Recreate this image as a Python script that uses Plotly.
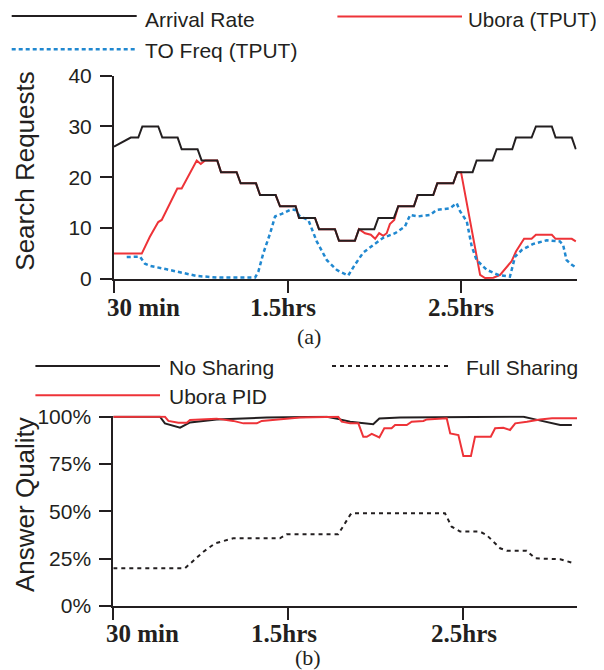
import plotly.graph_objects as go

# page is 604x670; the html body has an 8px margin, so the figure is drawn 8px in
OFF = 8
W, H = 604 - OFF, 670 - OFF

# ---------------- data (a) ----------------
arrival_x = [30, 35.8, 38.4, 39.8, 45.3, 46.7, 52.0, 53.4, 58.9, 60.3, 65.7, 67.0, 72.4, 73.8,
             79.1, 80.5, 85.9, 87.4, 92.8, 94.0, 99.5, 100.9, 106.4, 107.8, 113.3, 114.7, 120.0,
             121.4, 126.8, 128.3, 133.7, 135.0, 140.4, 141.8, 147.3, 148.7, 154.0, 155.4, 160.9,
             162.3, 167.7, 169.0, 174.4, 175.9, 181.4, 182.7, 188.3, 189.7]
arrival_y = [26.0, 27.8, 27.8, 30.0, 30.0, 27.8, 27.8, 25.5, 25.5, 23.3, 23.3, 21.0, 21.0, 18.8,
             18.8, 16.5, 16.5, 14.3, 14.3, 12.0, 12.0, 9.8, 9.8, 7.5, 7.5, 9.8, 9.8,
             12.0, 12.0, 14.3, 14.3, 16.5, 16.5, 18.8, 18.8, 21.0, 21.0, 23.3, 23.3,
             25.5, 25.5, 27.8, 27.8, 30.0, 30.0, 27.8, 27.8, 25.5]

ubora_x = [30, 39.6, 42.4, 45.3, 46.5, 51.9, 53.4, 58.6, 60.0, 61.5, 65.7, 67.0, 72.4, 73.8,
           79.1, 80.5, 85.9, 87.4, 92.8, 94.0, 99.5, 100.9, 106.4, 107.8, 113.3, 114.7,
           116.8, 118.8, 120.3, 121.7, 123.1, 124.3, 125.4, 126.9, 128.3, 133.7, 135.0, 140.4,
           141.8, 147.3, 148.7, 150.0, 156.6, 158.3, 161.2, 163.5, 167.5, 169.0, 171.8, 174.4,
           175.9, 181.4, 182.7, 188.3, 189.7]
ubora_y = [5.0, 5.0, 8.3, 11.2, 11.6, 17.8, 17.8, 23.3, 22.6, 23.3, 23.3, 21.0, 21.0, 18.8,
           18.8, 16.5, 16.5, 14.3, 14.3, 12.0, 12.0, 9.8, 9.8, 7.5, 7.5, 9.8,
           9.0, 8.7, 7.9, 9.0, 8.5, 9.0, 10.8, 11.6, 14.3, 14.3, 16.5, 16.5,
           18.8, 18.8, 21.0, 21.0, 0.8, 0.2, 0.25, 0.8, 3.5, 5.4, 7.9, 7.9,
           8.7, 8.7, 7.9, 7.9, 7.4]

tofreq_x = [34.4, 39.0, 40.7, 42.4, 48.2, 54.0, 58.6, 65.5, 78.8, 79.9, 81.6, 84.0, 85.7, 88.0,
            90.9, 92.6, 94.3, 97.2, 100.1, 103.6, 107.0, 108.2, 111.0, 113.3, 116.2, 119.7,
            123.1, 127.2, 130.6, 132.4, 135.2, 139.3, 141.6, 146.2, 148.5, 149.7, 152.0, 153.7,
            155.4, 158.9, 162.9, 166.9, 168.7, 171.0, 175.0, 179.6, 184.2, 185.3, 186.5, 188.3,
            189.4]
tofreq_y = [4.3, 4.4, 3.0, 2.6, 1.9, 1.1, 0.6, 0.3, 0.3, 1.4, 5.0, 9.0, 12.3, 12.8,
            13.6, 13.6, 12.3, 11.6, 7.4, 3.7, 1.8, 1.4, 0.7, 2.8, 5.2, 6.7,
            8.1, 9.0, 10.3, 12.6, 12.3, 12.6, 13.6, 13.9, 14.9, 13.3, 11.3, 6.4,
            3.7, 1.8, 0.8, 0.45, 4.4, 5.7, 6.9, 7.6, 7.4, 6.7, 3.7, 2.8,
            2.4]

# ---------------- data (b) ----------------
nosharing_x = [30, 46.0, 47.7, 52.9, 56.3, 65.4, 82.6, 103.2, 107.7, 111.2, 119.1, 121.2, 128.3,
               170.6, 174.6, 183.2, 187.2]
nosharing_y = [100, 100, 96.5, 94.2, 97.0, 98.6, 99.6, 100, 98.6, 97.4, 96.0, 99.1, 99.6,
               100, 98.6, 95.6, 95.6]

pid_x = [30, 47.7, 48.9, 52.3, 55.2, 56.3, 65.4, 71.1, 74.6, 79.2, 80.9, 88.3, 94.0, 107.1,
         108.3, 111.2, 114.0, 115.7, 116.9, 118.6, 121.2, 122.9, 125.4, 126.6, 130.6, 132.3,
         136.3, 137.5, 144.3, 145.5, 148.3, 150.0, 152.6, 154.0, 159.4, 160.9, 163.7, 166.0,
         167.8, 171.8, 176.3, 180.4, 189.0]
pid_y = [100, 100, 97.8, 96.8, 96.8, 98.3, 99.0, 97.8, 96.5, 96.5, 97.8, 98.6, 99.6, 100,
         97.4, 96.5, 96.5, 89.4, 89.4, 90.9, 89.1, 93.9, 93.9, 95.6, 95.6, 97.4,
         97.8, 98.6, 99.2, 91.2, 90.3, 79.2, 79.2, 89.4, 89.4, 93.9, 94.2, 93.0,
         96.5, 97.4, 98.6, 99.2, 99.2]

fullsharing_x = [30, 54.6, 60.9, 64.9, 71.1, 87.1, 89.4, 107.1, 111.2, 111.7, 143.7, 146.0,
                 148.9, 155.7, 158.0, 162.6, 164.9, 171.7, 174.6, 183.2, 187.2]
fullsharing_y = [20, 20, 28.7, 33.1, 35.8, 35.8, 37.9, 37.9, 48.1, 49, 49, 41.9,
                 39.3, 39.3, 37.5, 30.5, 29.2, 29.2, 25.2, 24.7, 22.9]

# ticks / labels
x_tickvals = [30, 90, 150]
x_ticktext = ["30 min", "1.5hrs", "2.5hrs"]
ya_tickvals = [0, 10, 20, 30, 40]
ya_ticktext = ["0", "10", "20", "30", "40"]
yb_tickvals = [0, 25, 50, 75, 100]
yb_ticktext = ["0%", "25%", "50%", "75%", "100%"]

# ---------------- styling ----------------
BLACK = "#231f20"
RED = "#ee3338"
BLUE = "#2088d0"
SANS = "Liberation Sans, Arial, sans-serif"
SERIF = "Liberation Serif, Times New Roman, serif"


def fx(p):  # page pixel x -> paper fraction
    return (p - OFF) / W


def fy(p):  # page pixel y -> paper fraction
    return (H - (p - OFF)) / H


fig = go.Figure()

# (a)
fig.add_trace(go.Scatter(x=ubora_x, y=ubora_y, mode="lines", line=dict(color=RED, width=2),
                         xaxis="x", yaxis="y", name="Ubora (TPUT)"))
fig.add_trace(go.Scatter(x=tofreq_x, y=tofreq_y, mode="lines",
                         line=dict(color=BLUE, width=2.5, dash="4px,3px"),
                         xaxis="x", yaxis="y", name="TO Freq (TPUT)"))
fig.add_trace(go.Scatter(x=arrival_x, y=arrival_y, mode="lines", line=dict(color=BLACK, width=2),
                         xaxis="x", yaxis="y", name="Arrival Rate"))

# (b)
fig.add_trace(go.Scatter(x=fullsharing_x, y=fullsharing_y, mode="lines",
                         line=dict(color=BLACK, width=2, dash="4px,4px"),
                         xaxis="x2", yaxis="y2", name="Full Sharing"))
fig.add_trace(go.Scatter(x=nosharing_x, y=nosharing_y, mode="lines", line=dict(color=BLACK, width=2),
                         xaxis="x2", yaxis="y2", name="No Sharing"))
fig.add_trace(go.Scatter(x=pid_x, y=pid_y, mode="lines", line=dict(color=RED, width=2),
                         xaxis="x2", yaxis="y2", name="Ubora PID"))

axis_common = dict(showline=True, linecolor=BLACK, linewidth=2, showgrid=False, zeroline=False,
                   ticks="outside", ticklen=12, tickwidth=2, tickcolor=BLACK, automargin=False)

fig.update_layout(
    width=W, height=H, autosize=False,
    margin=dict(l=0, r=0, t=0, b=0, pad=0, autoexpand=False),
    paper_bgcolor="white", plot_bgcolor="white",
    showlegend=False,
    xaxis=dict(domain=[fx(114), fx(576.7)], range=[30, 190], anchor="y",
               tickvals=x_tickvals, showticklabels=False, **axis_common),
    yaxis=dict(domain=[fy(279), fy(75.5)], range=[0, 40], anchor="x",
               tickmode="array", tickvals=ya_tickvals, ticktext=ya_ticktext, ticklabelstandoff=4,
               tickfont=dict(family=SANS, size=21, color=BLACK), **axis_common),
    xaxis2=dict(domain=[fx(113.3), fx(577.1)], range=[30, 189], anchor="y2",
                tickvals=x_tickvals, showticklabels=False, **axis_common),
    yaxis2=dict(domain=[fy(606), fy(415.6)], range=[0, 100.6], anchor="x2",
                tickmode="array", tickvals=yb_tickvals, ticktext=yb_ticktext, ticklabelstandoff=4,
                tickfont=dict(family=SANS, size=21, color=BLACK), **axis_common),
)

shapes = []
annotations = []


def legend_item(x0, x1, y, color, width, dash, text, tx, ty, size=21):
    shapes.append(dict(type="line", xref="paper", yref="paper",
                       x0=fx(x0), x1=fx(x1), y0=fy(y), y1=fy(y),
                       line=dict(color=color, width=width, dash=dash)))
    annotations.append(dict(xref="paper", yref="paper", x=fx(tx - 1), y=fy(ty), text=text,
                            showarrow=False, xanchor="left", yanchor="middle",
                            borderpad=0, borderwidth=0,
                            font=dict(family=SANS, size=size, color=BLACK)))


# legend (a)
legend_item(11.7, 136.7, 16, BLACK, 2, "solid", "Arrival Rate", 145.7, 19.8)
legend_item(337.4, 462, 16.5, RED, 2, "solid", "Ubora (TPUT)", 469, 19.8, size=20.5)
legend_item(11.7, 136.7, 49.3, BLUE, 2.5, "4px,3px", "TO Freq (TPUT)", 145.7, 51)
# legend (b)
legend_item(35.4, 160, 366, BLACK, 2, "solid", "No Sharing", 169.5, 367)
legend_item(332, 451.5, 366, BLACK, 2, "4px,4px", "Full Sharing", 467, 367)
legend_item(35.4, 160, 395.3, RED, 2, "solid", "Ubora PID", 169.5, 396)

# axis titles
annotations.append(dict(xref="paper", yref="paper", x=fx(25), y=fy(171.7), text="Search Requests",
                        textangle=-90, showarrow=False, xanchor="center", yanchor="middle",
                        font=dict(family=SANS, size=26, color=BLACK)))
annotations.append(dict(xref="paper", yref="paper", x=fx(25), y=fy(505), text="Answer Quality",
                        textangle=-90, showarrow=False, xanchor="center", yanchor="middle",
                        font=dict(family=SANS, size=26, color=BLACK)))

# x tick labels (bold serif)
label_shift = [29.3, -4.4, 0.3]
for xr, ypx in (("x", 307.5), ("x2", 633)):
    for v, t, s in zip(x_tickvals, x_ticktext, label_shift):
        annotations.append(dict(xref=xr, yref="paper", x=v, y=fy(ypx), text="<b>%s</b>" % t,
                                xshift=s, showarrow=False, xanchor="center", yanchor="middle",
                                font=dict(family=SERIF, size=25, color=BLACK)))

# panel captions
annotations.append(dict(xref="paper", yref="paper", x=fx(309), y=fy(336.5), text="(a)",
                        showarrow=False, xanchor="center", yanchor="middle",
                        font=dict(family=SERIF, size=22, color=BLACK)))
annotations.append(dict(xref="paper", yref="paper", x=fx(308), y=fy(657), text="(b)",
                        showarrow=False, xanchor="center", yanchor="middle",
                        font=dict(family=SERIF, size=22, color=BLACK)))

fig.update_layout(shapes=shapes, annotations=annotations)

fig.write_html("out.html")
